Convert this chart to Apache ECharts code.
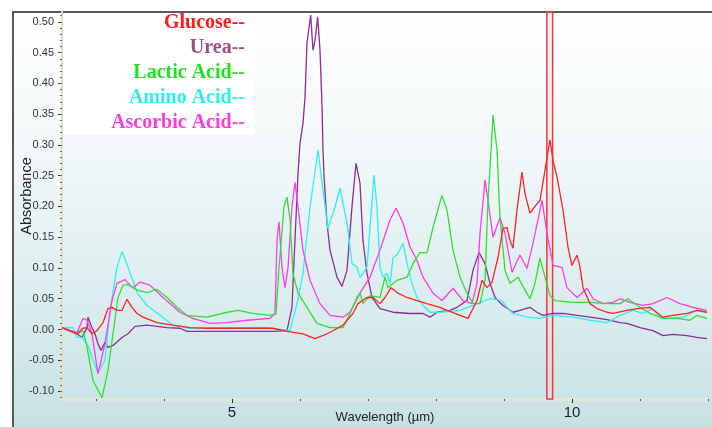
<!DOCTYPE html>
<html><head><meta charset="utf-8">
<script src="https://cdn.jsdelivr.net/npm/echarts@6/dist/echarts.min.js"></script>
<style>html,body{margin:0;padding:0;background:#fff}#c{width:712px;height:427px}</style>
</head><body><div id="c"></div>
<script>
// ---- data (wavelength in µm, absorbance) ----
const seriesNames = ['Glucose', 'Urea', 'Lactic Acid', 'Amino Acid', 'Ascorbic Acid'];
const xLabelValues = [5, 10];
const xMinorTicks = [3, 4, 6, 7, 8, 9, 11, 12];
const yLabelValues = [-0.10, -0.05, 0.00, 0.05, 0.10, 0.15, 0.20, 0.25, 0.30, 0.35, 0.40, 0.45, 0.50];
const markerBand = [9.63, 9.715];
const xTitle = 'Wavelength (\u00b5m)';
const yTitle = 'Absorbance';

const glucose = [[2.5,0.003],[2.721,-0.007],[2.809,0.002],[2.868,0.003],[2.941,-0.007],[3.015,-0.002],[3.103,0.011],[3.176,0.034],[3.235,0.036],[3.309,0.031],[3.382,0.031],[3.456,0.049],[3.529,0.036],[3.603,0.026],[3.691,0.02],[3.897,0.011],[4.132,0.007],[4.382,0.003],[4.632,0.002],[5.118,0.002],[5.603,0.002],[5.809,-0.003],[6.044,-0.007],[6.221,-0.015],[6.397,-0.007],[6.485,-0.002],[6.632,0.007],[6.779,0.026],[6.853,0.042],[6.985,0.052],[7.074,0.052],[7.176,0.042],[7.25,0.052],[7.338,0.068],[7.426,0.06],[7.574,0.052],[7.721,0.047],[7.868,0.042],[8.059,0.036],[8.162,0.031],[8.279,0.026],[8.471,0.018],[8.603,0.047],[8.676,0.08],[8.75,0.068],[8.824,0.077],[8.912,0.117],[8.985,0.164],[9.044,0.166],[9.088,0.145],[9.132,0.132],[9.191,0.194],[9.265,0.256],[9.309,0.221],[9.382,0.189],[9.456,0.2],[9.529,0.21],[9.603,0.259],[9.676,0.308],[9.721,0.275],[9.779,0.248],[9.868,0.194],[9.941,0.134],[10.0,0.104],[10.074,0.121],[10.118,0.101],[10.162,0.068],[10.265,0.042],[10.368,0.034],[10.515,0.028],[10.603,0.026],[10.809,0.031],[10.956,0.034],[11.147,0.036],[11.338,0.02],[11.485,0.023],[11.691,0.026],[11.838,0.031],[11.985,0.028]];

const urea = [[2.5,0.003],[2.721,-0.007],[2.794,-0.013],[2.868,0.003],[2.882,0.02],[2.941,0.003],[2.985,-0.007],[3.029,-0.023],[3.074,-0.034],[3.132,-0.021],[3.176,-0.029],[3.25,-0.026],[3.382,-0.013],[3.471,-0.007],[3.574,0.005],[3.75,0.007],[4.044,0.003],[4.235,0.002],[4.338,-0.003],[4.632,-0.003],[5.118,-0.003],[5.603,-0.003],[5.809,-0.002],[5.882,0.036],[5.926,0.145],[5.971,0.254],[6.0,0.303],[6.044,0.335],[6.074,0.378],[6.103,0.466],[6.157,0.511],[6.191,0.454],[6.221,0.47],[6.26,0.508],[6.294,0.454],[6.324,0.362],[6.338,0.292],[6.353,0.25],[6.397,0.173],[6.441,0.129],[6.544,0.085],[6.618,0.07],[6.691,0.096],[6.765,0.2],[6.824,0.27],[6.882,0.238],[6.926,0.145],[6.985,0.091],[7.059,0.052],[7.176,0.034],[7.368,0.028],[7.618,0.026],[7.809,0.026],[7.912,0.02],[8.015,0.028],[8.206,0.031],[8.309,0.036],[8.456,0.047],[8.544,0.096],[8.632,0.125],[8.721,0.107],[8.794,0.075],[8.868,0.052],[8.985,0.039],[9.132,0.028],[9.235,0.031],[9.382,0.036],[9.485,0.028],[9.574,0.023],[9.721,0.026],[9.868,0.026],[10.074,0.023],[10.265,0.02],[10.515,0.016],[10.706,0.011],[10.809,0.01],[11.0,0.003],[11.191,-0.002],[11.338,-0.01],[11.485,-0.008],[11.691,-0.01],[11.838,-0.013],[11.985,-0.015]];

const lacticAcid = [[2.5,0.003],[2.721,-0.007],[2.809,-0.002],[2.868,-0.029],[2.956,-0.083],[3.088,-0.111],[3.176,-0.067],[3.25,-0.007],[3.324,0.052],[3.397,0.072],[3.471,0.073],[3.603,0.064],[3.75,0.06],[3.897,0.065],[4.044,0.052],[4.191,0.036],[4.338,0.023],[4.632,0.02],[4.926,0.028],[5.088,0.031],[5.309,0.026],[5.559,0.023],[5.647,0.025],[5.691,0.1],[5.765,0.2],[5.809,0.215],[5.853,0.178],[5.897,0.091],[5.971,0.059],[6.103,0.036],[6.25,0.01],[6.441,0.003],[6.632,0.003],[6.735,0.026],[6.838,0.052],[6.882,0.059],[6.926,0.042],[7.029,0.055],[7.176,0.052],[7.25,0.085],[7.294,0.068],[7.426,0.08],[7.574,0.085],[7.662,0.107],[7.765,0.125],[7.868,0.125],[7.956,0.166],[8.088,0.218],[8.162,0.194],[8.25,0.129],[8.353,0.085],[8.456,0.059],[8.544,0.042],[8.647,0.042],[8.721,0.08],[8.765,0.21],[8.824,0.319],[8.838,0.349],[8.897,0.292],[8.941,0.182],[9.015,0.096],[9.088,0.075],[9.206,0.085],[9.309,0.064],[9.382,0.05],[9.456,0.075],[9.529,0.116],[9.603,0.085],[9.676,0.055],[9.75,0.047],[10.015,0.044],[10.265,0.044],[10.515,0.042],[10.706,0.042],[10.824,0.05],[10.956,0.039],[11.147,0.026],[11.338,0.018],[11.544,0.018],[11.735,0.015],[11.838,0.023],[11.985,0.018]];

const aminoAcid = [[2.5,0.003],[2.662,0.003],[2.721,-0.013],[2.794,-0.013],[2.882,-0.026],[2.956,-0.05],[3.029,-0.07],[3.132,-0.05],[3.206,0.031],[3.309,0.101],[3.382,0.127],[3.471,0.101],[3.603,0.06],[3.75,0.039],[3.941,0.023],[4.132,0.007],[4.382,0.002],[5.0,0.003],[5.5,0.003],[5.853,-0.002],[5.956,0.042],[6.044,0.091],[6.147,0.199],[6.265,0.292],[6.338,0.226],[6.412,0.164],[6.441,0.161],[6.515,0.199],[6.588,0.23],[6.691,0.173],[6.765,0.107],[6.838,0.101],[6.882,0.085],[6.926,0.091],[6.985,0.101],[7.088,0.251],[7.132,0.199],[7.176,0.101],[7.221,0.085],[7.279,0.091],[7.324,0.075],[7.368,0.117],[7.426,0.121],[7.515,0.14],[7.574,0.107],[7.647,0.075],[7.721,0.052],[7.809,0.039],[7.912,0.028],[8.059,0.028],[8.353,0.031],[8.544,0.039],[8.794,0.05],[8.971,0.047],[9.044,0.036],[9.132,0.026],[9.338,0.02],[9.529,0.018],[9.721,0.023],[10.015,0.02],[10.265,0.015],[10.515,0.011],[10.706,0.023],[10.897,0.031],[11.044,0.026],[11.176,0.034],[11.294,0.02],[11.441,0.018],[11.632,0.02],[11.838,0.031],[11.985,0.028]];

const ascorbicAcid = [[2.5,0.003],[2.721,-0.005],[2.809,0.018],[2.868,0.015],[2.941,-0.007],[3.029,-0.072],[3.132,-0.023],[3.235,0.047],[3.309,0.075],[3.426,0.081],[3.5,0.072],[3.544,0.068],[3.647,0.077],[3.794,0.072],[3.985,0.052],[4.235,0.028],[4.426,0.018],[4.676,0.01],[4.926,0.011],[5.221,0.015],[5.559,0.018],[5.632,0.026],[5.662,0.145],[5.691,0.175],[5.735,0.101],[5.779,0.068],[5.824,0.101],[5.882,0.199],[5.926,0.239],[5.971,0.199],[6.044,0.129],[6.147,0.08],[6.294,0.042],[6.441,0.023],[6.632,0.02],[6.735,0.028],[6.882,0.059],[7.029,0.085],[7.176,0.129],[7.324,0.178],[7.412,0.197],[7.515,0.173],[7.618,0.134],[7.721,0.112],[7.809,0.085],[7.956,0.059],[8.088,0.047],[8.25,0.067],[8.397,0.047],[8.529,0.042],[8.603,0.075],[8.647,0.156],[8.721,0.243],[8.765,0.21],[8.838,0.15],[8.941,0.182],[9.015,0.156],[9.118,0.093],[9.235,0.121],[9.338,0.099],[9.426,0.14],[9.559,0.21],[9.632,0.156],[9.721,0.104],[9.853,0.101],[9.926,0.068],[10.074,0.052],[10.221,0.067],[10.309,0.05],[10.456,0.042],[10.603,0.044],[10.706,0.05],[10.853,0.044],[11.044,0.039],[11.191,0.042],[11.397,0.052],[11.588,0.042],[11.779,0.036],[11.985,0.031]];

// ---- styling ----
const lineColors = ['#ff2222', '#8e2a9e', '#2ee02e', '#2ef0f0', '#ff3ae8'];
const textColors = ['#ff1a1a', '#a04c82', '#22e022', '#2af0f0', '#ff3ad8'];
const seriesData = [glucose, urea, lacticAcid, aminoAcid, ascorbicAcid];
const yMinorTicks = [];
for (let i = -11; i <= 51; i++) yMinorTicks.push(i / 100);

const chart = echarts.init(document.getElementById('c'), null, {renderer: 'canvas'});
const drawOrder = [1, 3, 4, 2, 0];
const font = 'Liberation Sans, Arial, sans-serif';

const option = {
  animation: false,
  backgroundColor: '#ffffff',
  grid: {left: 62, right: 4, top: 12, bottom: 28, containLabel: false, outerBoundsMode: 'none'},
  xAxis: [
    {type: 'value', min: 2.5, max: 12, position: 'bottom',
     name: xTitle, nameLocation: 'middle', nameGap: 12,
     nameTextStyle: {fontSize: 13, color: '#222', fontFamily: font},
     axisLine: {show: true, onZero: false, lineStyle: {color: '#e8e4d4', width: 3}},
     axisTick: {show: true, customValues: xMinorTicks, length: 2, lineStyle: {color: '#555'}},
     axisLabel: {show: false}, splitLine: {show: false}},
    {type: 'value', min: 2.5, max: 12, position: 'bottom',
     axisLine: {show: false, onZero: false},
     axisTick: {show: true, customValues: xLabelValues, length: 4, lineStyle: {color: '#222'}},
     axisLabel: {show: true, customValues: xLabelValues, fontSize: 15, margin: 6, color: '#222', fontFamily: font},
     splitLine: {show: false}}
  ],
  yAxis: [
    {type: 'value', min: -0.113, max: 0.516, position: 'left',
     axisLine: {show: true, onZero: false, lineStyle: {color: '#e4dfcb', width: 2}},
     axisTick: {show: true, customValues: yLabelValues, length: 4, lineStyle: {color: '#333'}},
     axisLabel: {show: true, customValues: yLabelValues, formatter: v => v.toFixed(2),
                 fontSize: 11, margin: 8, color: '#333', fontFamily: font},
     splitLine: {show: false}},
    {type: 'value', min: -0.113, max: 0.516, position: 'left',
     axisLine: {show: false, onZero: false},
     axisTick: {show: true, customValues: yMinorTicks, length: 2, lineStyle: {color: '#666'}},
     axisLabel: {show: false}, splitLine: {show: false}}
  ],
  graphic: [
    {type: 'rect', z: -20, silent: true,
     shape: {x: 13, y: 12, width: 740, height: 440},
     style: {fill: {type: 'linear', x: 0, y: 0, x2: 0, y2: 1,
                    colorStops: [{offset: 0, color: '#ffffff'}, {offset: 0.35, color: '#f0f7f8'},
                                 {offset: 0.7, color: '#d8ebed'}, {offset: 1, color: '#c2dfe2'}]},
             stroke: '#5a5a5a', lineWidth: 2}},
    {type: 'rect', z: -19, silent: true,
     shape: {x: 63, y: 13, width: 192, height: 122},
     style: {fill: '#ffffff'}},
    {type: 'text', z: 100, silent: true, x: 27, y: 196, rotation: Math.PI / 2,
     style: {text: yTitle, textAlign: 'center', textVerticalAlign: 'middle',
             font: '14.5px "Liberation Sans", Arial, sans-serif', fill: '#222'}}
  ].concat(seriesNames.map((n, i) => ({
    type: 'text', z: 100, silent: true,
    style: {x: 245, y: 22.5 + 25 * i, text: n + '--', textAlign: 'right', textVerticalAlign: 'middle',
            font: 'bold 20px "Liberation Serif", "Times New Roman", serif', fill: textColors[i]}
  }))),
  series: drawOrder.map((i, k) => {
    const s = {
      type: 'line', name: seriesNames[i], data: seriesData[i],
      xAxisIndex: 0, yAxisIndex: 0, showSymbol: false, symbol: 'none',
      smooth: false, z: 3 + k,
      lineStyle: {width: 1.3, color: lineColors[i]}, itemStyle: {color: lineColors[i]}
    };
    if (i === 0) {
      s.markArea = {silent: true,
        itemStyle: {color: 'rgba(255,210,210,0.35)', borderColor: '#e63c3c', borderWidth: 1.5},
        data: [[{xAxis: markerBand[0]}, {xAxis: markerBand[1]}]]};
    }
    return s;
  })
};
chart.setOption(option);
</script></body></html>
